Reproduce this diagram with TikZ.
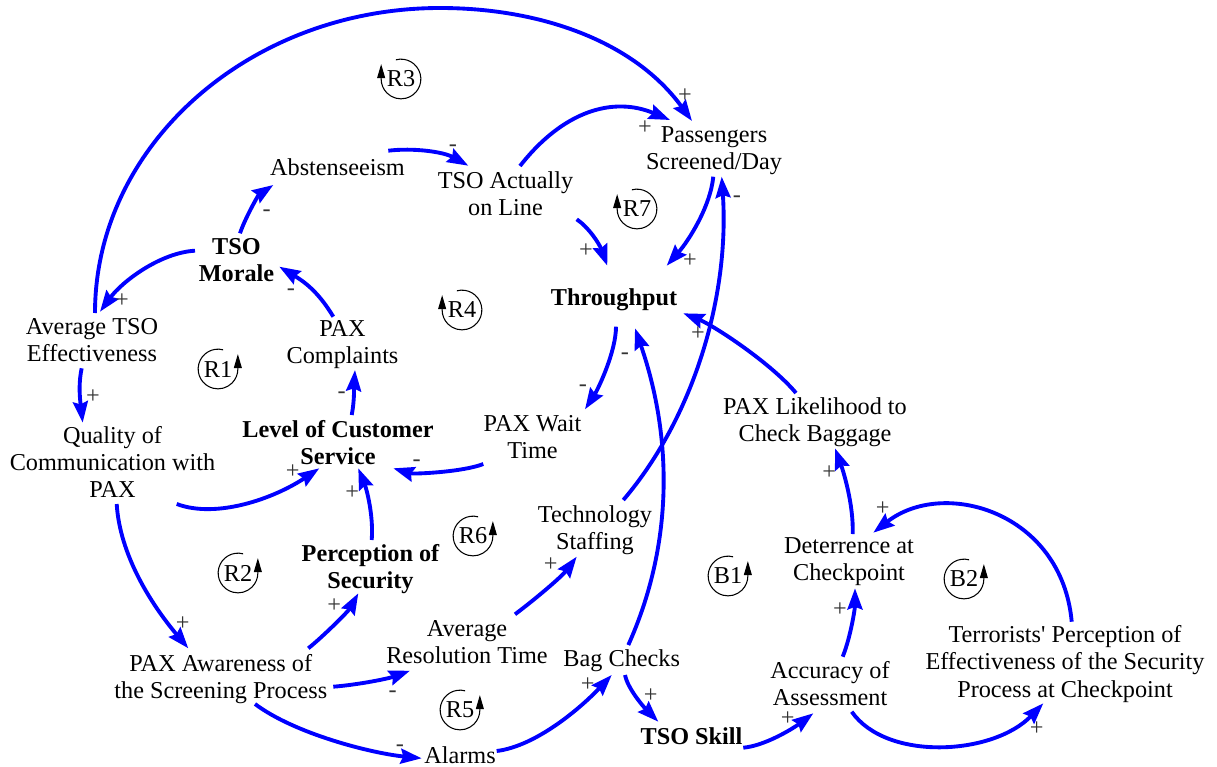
\documentclass[tikz,border=0pt]{standalone}
\usepackage{fontspec}
\setmainfont{Liberation Serif}
\usetikzlibrary{arrows.meta,calc}
\newcommand\cldfont{\fontsize{13.8pt}{15.4pt}\selectfont}
% loop markers: arrow on the left (clockwise) or on the right (counter-clockwise)
\newcommand\loopleft[1]{\draw[loopline] (#1.center) ++(105:11.3pt) arc[start angle=105,end angle=-180,radius=11.3pt] -- ++(0,8.5pt);}
\newcommand\loopright[1]{\draw[loopline] (#1.center) ++(75:11.3pt) arc[start angle=75,end angle=360,radius=11.3pt] -- ++(0,8.5pt);}
\begin{document}
\begin{tikzpicture}[x=0.02cm,y=-0.02cm,
  var/.style={inner sep=0pt, align=center, font=\cldfont},
  key/.style={inner sep=0pt, align=center, font=\cldfont\bfseries},
  sign/.style={inner sep=0pt, text height=0.5em, text depth=0pt, font=\cldfont, text=black!80},
  loopname/.style={inner sep=0pt, font=\cldfont},
  loopline/.style={line width=0.6pt, -{Triangle[length=8pt,width=4.5pt]}},
  link/.style={draw=blue, line width=2.2pt, -{Stealth[length=12pt,width=8.5pt,inset=1.5pt]}}]
\useasboundingbox (0,0) rectangle (1217,767);

% variables
\node[var] (abs) at (337.5,167.5) {Abstenseeism};
\node[var] (tso) at (505.5,193.5) {TSO Actually\\on Line};
\node[var] (pass) at (714,151) {Passengers\\Screened/Day};
\node[key] (morale) at (236.5,260.5) {TSO\\Morale};
\node[var] (avg) at (92,340) {Average TSO\\Effectiveness};
\node[var] (compl) at (342.5,345) {PAX\\Complaints};
\node[key] (thru) at (614,300) {Throughput};
\node[var] (qual) at (112.5,462) {Quality of\\Communication with\\PAX};
\node[key] (lcs) at (338,443) {Level of Customer\\Service};
\node[var] (wait) at (532.5,437) {PAX Wait\\Time};
\node[var] (likely) at (815,422) {PAX Likelihood to\\Check Baggage};
\node[var] (tech) at (595,530) {Technology\\Staffing};
\node[key] (perc) at (370.5,569) {Perception of\\Security};
\node[var] (deter) at (849,562) {Deterrence at\\Checkpoint};
\node[var] (art) at (467,642) {Average\\Resolution Time};
\node[var] (bag) at (621.7,661) {Bag Checks};
\node[var] (aware) at (220.8,679) {PAX Awareness of\\the Screening Process};
\node[var] (acc) at (830,684) {Accuracy of\\Assessment};
\node[var] (terr) at (1065,664) {Terrorists\textquotesingle{} Perception of\\Effectiveness of the Security\\Process at Checkpoint};
\node[var] (alarms) at (460,755) {Alarms};
\node[key] (skill) at (691.5,736) {TSO Skill};

% causal links
\draw[link] ($(abs)+(50.8,-16.8)$) .. controls +(25,-3) and +(-25,-14) .. ($(tso)+(-37.2,-27.8)$);
\draw[link] ($(tso)+(14.5,-27.5)$) .. controls +(43,-55) and +(-57,-24) .. ($(pass)+(-44,-31)$);
\draw[link] ($(avg)+(3,-27)$) .. controls (95,145) and (250,8) .. (440,8) .. controls (540,8) and (634,41) .. ($(pass)+(-22,-30)$);
\draw[link] ($(tso)+(71.2,25.8)$) .. controls +(12,8) and +(-8,-22) .. ($(thru)+(-6.7,-34.3)$);
\draw[link] ($(pass)+(-0.7,25.7)$) .. controls +(-3,30) and +(22,-25) .. ($(thru)+(52.7,-34.3)$);
\draw[link] ($(tech)+(28.3,-30)$) .. controls +(70,-82) and +(8,120) .. ($(pass)+(7.7,25.7)$);
\draw[link] ($(morale)+(3.5,-27.2)$) .. controls +(5,-15) and +(-15,10) .. ($(abs)+(-64.2,17.5)$);
\draw[link] ($(morale)+(-41.5,-9.8)$) .. controls +(-35,2) and +(22,-30) .. ($(avg)+(8,-28.3)$);
\draw[link] ($(compl)+(-9.2,-28.3)$) .. controls +(-15,-25) and +(25,15) .. ($(morale)+(42.8,6.2)$);
\draw[link] ($(avg)+(-10.3,28.3)$) .. controls +(-4,18) and +(-2,-18) .. ($(qual)+(-29.8,-39.3)$);
\draw[link] ($(lcs)+(13.7,-28)$) .. controls +(3,-15) and +(-1,15) .. ($(compl)+(12.5,25)$);
\draw[link] ($(qual)+(64.2,42)$) .. controls +(40,15) and +(-45,30) .. ($(lcs)+(-18.7,25.3)$);
\draw[link] ($(wait)+(-49.2,27)$) .. controls +(-20,8) and +(20,6) .. ($(lcs)+(55.3,25.3)$);
\draw[link] ($(thru)+(2,26.7)$) .. controls +(0,25) and +(13,-20) .. ($(wait)+(52.5,-27.7)$);
\draw[link] ($(bag)+(6.6,-16)$) .. controls +(45,-100) and +(38,110) .. ($(thru)+(21,28.3)$);
\draw[link] ($(likely)+(-19,-29)$) .. controls +(-25,-30) and +(30,12) .. ($(thru)+(69.3,13.3)$);
\draw[link] ($(perc)+(1.2,-29)$) .. controls +(2,-25) and +(8,20) .. ($(lcs)+(20.3,25.3)$);
\draw[link] ($(qual)+(4.2,42)$) .. controls +(3,50) and +(-38,-45) .. ($(aware)+(-32.5,-30.7)$);
\draw[link] ($(aware)+(87.5,-30.7)$) .. controls +(15,-12) and +(-10,18) .. ($(perc)+(-12.2,24.3)$);
\draw[link] ($(aware)+(112.5,7.7)$) .. controls +(25,-2) and +(-22,8) .. ($(art)+(-57,28.7)$);
\draw[link] ($(aware)+(34.2,25)$) .. controls +(40,30) and +(-50,-5) .. ($(alarms)+(-38.3,3.3)$);
\draw[link] ($(art)+(48,-27.7)$) .. controls +(20,-15) and +(-15,20) .. ($(tech)+(-18.3,26.7)$);
\draw[link] ($(alarms)+(36.7,-4)$) .. controls +(40,-5) and +(-30,32) .. ($(bag)+(-10,14)$);
\draw[link] ($(bag)+(3.3,14)$) .. controls +(3,15) and +(-12,-12) .. ($(skill)+(-33.2,-14.3)$);
\draw[link] ($(skill)+(51.8,11.7)$) .. controls +(22,-2) and +(-20,15) .. ($(acc)+(-16.7,29.3)$);
\draw[link] ($(acc)+(12.7,-27.3)$) .. controls +(8,-20) and +(0,20) .. ($(deter)+(6,26.3)$);
\draw[link] ($(deter)+(3.7,-28)$) .. controls +(1,-30) and +(8,22) .. ($(likely)+(20,26.3)$);
\draw[link] ($(acc)+(21.7,27.7)$) .. controls +(35,50) and +(-50,52) .. ($(terr)+(-21.7,39.3)$);
\draw[link] ($(terr)+(6.7,-42.3)$) .. controls +(-10,-110) and +(70,-55) .. ($(deter)+(24.3,-29.3)$);

% link polarities
\node[sign] (s1) at (453,146.7) {-};
\node[sign] (s2) at (685,97.7) {+};
\node[sign] (s3) at (645,130) {+};
\node[sign] (s4) at (737,197.7) {-};
\node[sign] (s5) at (586,252.7) {+};
\node[sign] (s6) at (690,262.7) {+};
\node[sign] (s7) at (698,336) {+};
\node[sign] (s8) at (625,355) {-};
\node[sign] (s9) at (583,386.7) {-};
\node[sign] (s10) at (266.7,212.3) {-};
\node[sign] (s11) at (122,302.7) {+};
\node[sign] (s12) at (291,291) {-};
\node[sign] (s13) at (93,399) {+};
\node[sign] (s14) at (341.7,394) {-};
\node[sign] (s15) at (292.7,474) {+};
\node[sign] (s16) at (416.7,461.7) {-};
\node[sign] (s17) at (352.3,495) {+};
\node[sign] (s18) at (182.7,625.7) {+};
\node[sign] (s19) at (334.3,607.7) {+};
\node[sign] (s20) at (392.7,692.7) {-};
\node[sign] (s21) at (400,746.7) {-};
\node[sign] (s22) at (550.7,566.7) {+};
\node[sign] (s23) at (587.7,686.7) {+};
\node[sign] (s24) at (650.7,698.3) {+};
\node[sign] (s25) at (787.7,721.5) {+};
\node[sign] (s26) at (829.3,475) {+};
\node[sign] (s27) at (882.7,511) {+};
\node[sign] (s28) at (840,611.7) {+};
\node[sign] (s29) at (1036.7,730.7) {+};

% loop identifiers
\node[loopname] (r3) at (401,79) {R3};
\node[loopname] (r7) at (637,209) {R7};
\node[loopname] (r4) at (462,310) {R4};
\node[loopname] (r1) at (218,369) {R1};
\node[loopname] (r2) at (238,573) {R2};
\node[loopname] (r6) at (473,536) {R6};
\node[loopname] (r5) at (460,710) {R5};
\node[loopname] (b1) at (728,576) {B1};
\node[loopname] (b2) at (964,579) {B2};
\loopleft{r3}
\loopleft{r7}
\loopleft{r4}
\loopright{r1}
\loopright{r2}
\loopright{r6}
\loopright{r5}
\loopright{b1}
\loopright{b2}
\end{tikzpicture}
\end{document}
